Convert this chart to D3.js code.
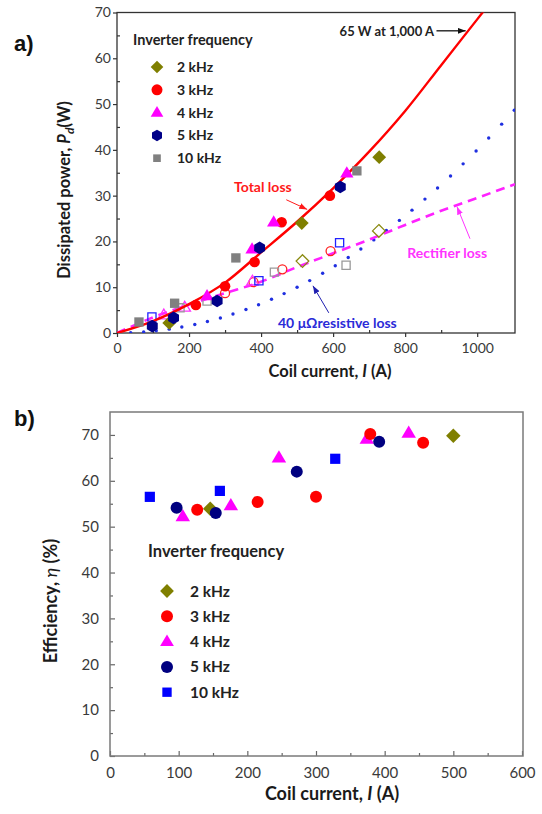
<!DOCTYPE html>
<html>
<head>
<meta charset="utf-8">
<script src="https://d3js.org/d3.v7.min.js"></script>
<style>
  body { margin: 0; background: #fff; }
  text { font-family: Lato, "Open Sans", sans-serif; }
</style>
</head>
<body>
<script>
// ---------- data, panel a (dissipated power vs coil current) ----------
var freqs = ['2 kHz', '3 kHz', '4 kHz', '5 kHz', '10 kHz'];

// filled markers = total loss [I (A), P (W)]
var total2k = [[145, 2.2], [513, 24.0], [728, 38.4]];
var total3k = [[219, 6.1], [300, 10.2], [382, 15.5], [457, 24.2], [591, 30.0]];
var total4k = [[250, 8.1], [375, 18.3], [435, 24.2], [638, 34.9]];
var total5k = [[98, 1.5], [157, 3.3], [278, 7.0], [396, 18.6], [620, 31.9]];
var total10k = [[61, 2.4], [160, 6.5], [330, 16.4], [666, 35.4]];

// open markers = rectifier loss
var rect2k = [[515, 15.7], [727, 22.3]];
var rect3k = [[300, 8.7], [379, 11.1], [459, 13.9], [593, 17.9]];
var rect4k = [[130, 3.9], [188, 5.6], [376, 11.3]];
var rect5k = [[97, 3.5], [394, 11.4], [618, 19.7]];
var rect10k = [[175, 5.5], [250, 7.0], [437, 13.3], [636, 14.8]];

// fitted curves
var totalCurve = [[0, 0], [100, 2.6], [200, 6.3], [300, 11.0], [400, 17.6], [500, 24.3],
    [600, 31.6], [700, 39.6], [800, 48.5], [900, 58.5], [1000, 68.5], [1030, 71.5]];
var rectCurve = [[0, 0], [100, 3.4], [200, 6.2], [300, 8.7], [400, 11.2], [500, 14.4],
    [600, 17.4], [700, 20.4], [800, 23.6], [900, 26.7], [1000, 29.5], [1105, 32.5]];
var resistI = [3, 38, 74, 109, 145, 180, 216, 251, 287, 322, 358, 393, 429, 464, 500, 535,
    571, 606, 642, 677, 713, 748, 784, 819, 855, 890, 926, 961, 997, 1032, 1068, 1103];
var resistP = [0, 0.06, 0.22, 0.48, 0.84, 1.30, 1.87, 2.52, 3.29, 4.15, 5.13, 6.18, 7.36, 8.61, 10.0, 11.45,
    13.04, 14.69, 16.49, 18.33, 20.33, 22.38, 24.59, 26.83, 29.24, 31.68, 34.30, 36.94, 39.76, 42.60, 45.62, 48.66];

var xTicksA = [0, 200, 400, 600, 800, 1000];
var yTicksA = [0, 10, 20, 30, 40, 50, 60, 70];

// ---------- data, panel b (efficiency vs coil current) ----------
var eff2k = [[146, 53.9], [500, 69.8]];
var eff3k = [[127, 53.7], [215, 55.4], [300, 56.5], [379, 70.2], [456, 68.3]];
var eff4k = [[106, 52.2], [176, 54.6], [246, 65.0], [374, 69.1], [435, 70.4]];
var eff5k = [[97, 54.1], [154, 53.0], [272, 62.0], [392, 68.5]];
var eff10k = [[58, 56.5], [160, 57.8], [328, 64.8]];

var xTicksB = [0, 100, 200, 300, 400, 500, 600];
var yTicksB = [0, 10, 20, 30, 40, 50, 60, 70];

// ---------- helpers ----------
function markerPath(shape, r) {
    var p = d3.path(), pts;
    if (shape === 'circle') {
        p.arc(0, 0, r, 0, 2 * Math.PI);
        return p.toString();
    }
    if (shape === 'square') pts = [[-r*0.85, -r*0.85], [r*0.85, -r*0.85], [r*0.85, r*0.85], [-r*0.85, r*0.85]];
    if (shape === 'diamond') pts = [[0, -r*1.15], [r*1.15, 0], [0, r*1.15], [-r*1.15, 0]];
    if (shape === 'triangle') pts = [[0, -r*1.2], [r*1.15, r*0.75], [-r*1.15, r*0.75]];
    if (shape === 'hexagon') pts = d3.range(6).map(function(k) {
        var a = -Math.PI / 2 + k * Math.PI / 3;
        return [r * 1.05 * Math.cos(a), r * 1.05 * Math.sin(a)];
    });
    p.moveTo(pts[0][0], pts[0][1]);
    pts.slice(1).forEach(function(q) { p.lineTo(q[0], q[1]); });
    p.closePath();
    return p.toString();
}

function drawPoints(g, data, x, y, shape, r, color, filled) {
    g.selectAll(null)
        .data(data)
        .enter().append('path')
        .attr('transform', function(d) { return 'translate(' + x(d[0]) + ',' + y(d[1]) + ')'; })
        .attr('d', markerPath(shape, r))
        .attr('fill', filled ? color : 'none')
        .attr('stroke', color)
        .attr('stroke-width', filled ? 0 : 1.3);
}

function styleAxis(g, size, color) {
    g.select('.domain').remove();
    g.selectAll('line').attr('stroke', color).attr('stroke-width', 1.2);
    g.selectAll('text')
        .attr('fill', '#3a3a3a')
        .style('font-size', size + 'px')
        .style('font-family', 'Lato, sans-serif');
}

var svg = d3.select('body').append('svg')
    .attr('width', 542)
    .attr('height', 814);

var defs = svg.append('defs');
[['arrBlack', '#111'], ['arrRed', '#ff1a1a'], ['arrMag', '#ff33ff'], ['arrBlue', '#1f1fb0']].forEach(function(m) {
    defs.append('marker')
        .attr('id', m[0])
        .attr('viewBox', '0 0 8 6')
        .attr('refX', 8).attr('refY', 3)
        .attr('markerWidth', 8).attr('markerHeight', 6)
        .attr('markerUnits', 'userSpaceOnUse')
        .attr('orient', 'auto')
        .append('path')
        .attr('d', 'M0,0 L8,3 L0,6 Z')
        .attr('fill', m[1]);
});

// =================== panel a ===================
var xa = d3.scaleLinear().domain([0, 1105]).range([117, 515]);
var ya = d3.scaleLinear().domain([0, 70]).range([333, 12.5]);

defs.append('clipPath').attr('id', 'clipA')
    .append('rect')
    .attr('x', 117).attr('y', 12.5)
    .attr('width', 398).attr('height', 320.5);

var ga = svg.append('g');

var axA = ga.append('g').attr('transform', 'translate(0,333)')
    .call(d3.axisBottom(xa).tickValues(xTicksA).tickFormat(d3.format('d')).tickSize(4).tickPadding(6));
styleAxis(axA, 14, '#333');
var axAm = ga.append('g').attr('transform', 'translate(0,333)')
    .call(d3.axisBottom(xa).tickValues([100, 300, 500, 700, 900]).tickSize(-3).tickFormat(''));
styleAxis(axAm, 14, '#333');

var ayA = ga.append('g').attr('transform', 'translate(117,0)')
    .call(d3.axisLeft(ya).tickValues(yTicksA).tickSize(4).tickPadding(2));
styleAxis(ayA, 14, '#333');
var ayAm = ga.append('g').attr('transform', 'translate(117,0)')
    .call(d3.axisLeft(ya).tickValues([5, 15, 25, 35, 45, 55, 65]).tickSize(-3).tickFormat(''));
styleAxis(ayAm, 14, '#333');

ga.append('rect')
    .attr('x', 117).attr('y', 12.5)
    .attr('width', 398).attr('height', 320.5)
    .attr('fill', 'none')
    .attr('stroke', '#333')
    .attr('stroke-width', 1.3);

var plotA = ga.append('g').attr('clip-path', 'url(#clipA)');

var lineA = d3.line()
    .x(function(d) { return xa(d[0]); })
    .y(function(d) { return ya(d[1]); })
    .curve(d3.curveMonotoneX);

// resistive loss dots
plotA.selectAll('circle.res')
    .data(resistI)
    .enter().append('circle')
    .attr('class', 'res')
    .attr('cx', function(d) { return xa(d); })
    .attr('cy', function(d, i) { return ya(resistP[i]); })
    .attr('r', 1.7)
    .attr('fill', '#1f2fe0');

// rectifier loss dashed
plotA.append('path')
    .attr('d', lineA(rectCurve))
    .attr('fill', 'none')
    .attr('stroke', '#ff22ff')
    .attr('stroke-width', 2.6)
    .attr('stroke-dasharray', '9,6');

// open markers
drawPoints(plotA, rect2k, xa, ya, 'diamond', 5.5, '#8a8a10', false);
drawPoints(plotA, rect3k, xa, ya, 'circle', 4.5, '#ff2020', false);
drawPoints(plotA, rect4k, xa, ya, 'triangle', 5, '#ff33ff', false);
drawPoints(plotA, rect5k, xa, ya, 'square', 4.8, '#2020ff', false);
drawPoints(plotA, rect10k, xa, ya, 'square', 4.8, '#9a9a9a', false);

// total loss line
plotA.append('path')
    .attr('d', lineA(totalCurve))
    .attr('fill', 'none')
    .attr('stroke', '#ff0000')
    .attr('stroke-width', 2.4);

// filled markers
drawPoints(plotA, total10k, xa, ya, 'square', 5.5, '#808080', true);
drawPoints(plotA, total2k, xa, ya, 'diamond', 6, '#7f7f00', true);
drawPoints(plotA, total3k, xa, ya, 'circle', 5.3, '#ff0000', true);
drawPoints(plotA, total4k, xa, ya, 'triangle', 5.8, '#ff00ff', true);
drawPoints(plotA, total5k, xa, ya, 'hexagon', 6, '#000088', true);

// legend a
var legA = ga.append('g');
legA.append('text')
    .attr('x', 133).attr('y', 45)
    .attr('font-size', 14.5).attr('font-weight', 'bold')
    .attr('fill', '#222')
    .text('Inverter frequency');
var legShapesA = ['diamond', 'circle', 'triangle', 'hexagon', 'square'];
var legColorsA = ['#7f7f00', '#ff0000', '#ff00ff', '#000088', '#808080'];
freqs.forEach(function(f, i) {
    var yy = 67 + i * 22.8;
    legA.append('path')
        .attr('transform', 'translate(157,' + yy + ')')
        .attr('d', markerPath(legShapesA[i], i === 4 ? 4.5 : 5.5))
        .attr('fill', legColorsA[i]);
    legA.append('text')
        .attr('x', 177).attr('y', yy + 5)
        .attr('font-size', 14).attr('font-weight', 'bold')
        .attr('fill', '#222')
        .text(f);
});

// annotations a
ga.append('text')
    .attr('x', xa(880)).attr('y', ya(64.8))
    .attr('text-anchor', 'end')
    .attr('font-size', 13).attr('font-weight', 'bold')
    .attr('fill', '#222')
    .text('65 W at 1,000 A');
ga.append('line')
    .attr('x1', xa(887)).attr('y1', ya(66)).attr('x2', xa(968)).attr('y2', ya(66))
    .attr('stroke', '#111').attr('stroke-width', 1.3)
    .attr('marker-end', 'url(#arrBlack)');

ga.append('text')
    .attr('x', xa(325)).attr('y', ya(30.8))
    .attr('font-size', 14).attr('font-weight', 'bold')
    .attr('fill', '#ff1a1a')
    .text('Total loss');
ga.append('line')
    .attr('x1', xa(470)).attr('y1', ya(29.1)).attr('x2', xa(528)).attr('y2', ya(27.0))
    .attr('stroke', '#ff1a1a').attr('stroke-width', 1)
    .attr('marker-end', 'url(#arrRed)');

ga.append('text')
    .attr('x', xa(806)).attr('y', ya(16.4))
    .attr('font-size', 14).attr('font-weight', 'bold')
    .attr('fill', '#ff33ff')
    .text('Rectifier loss');
ga.append('line')
    .attr('x1', xa(980)).attr('y1', ya(20.6)).attr('x2', xa(944)).attr('y2', ya(27.6))
    .attr('stroke', '#ff33ff').attr('stroke-width', 1)
    .attr('marker-end', 'url(#arrMag)');

ga.append('text')
    .attr('x', xa(447)).attr('y', ya(1.2))
    .attr('font-size', 14).attr('font-weight', 'bold')
    .attr('fill', '#2b2bd8')
    .text('40 μΩresistive loss');
ga.append('line')
    .attr('x1', xa(588)).attr('y1', ya(4.4)).attr('x2', xa(544)).attr('y2', ya(10.3))
    .attr('stroke', '#1f1fb0').attr('stroke-width', 1)
    .attr('marker-end', 'url(#arrBlue)');

// axis titles a
var xtA = ga.append('text')
    .attr('x', 330).attr('y', 377)
    .attr('text-anchor', 'middle')
    .attr('font-size', 16.5).attr('font-weight', 'bold')
    .attr('fill', '#1a1a1a');
xtA.append('tspan').text('Coil current, ');
xtA.append('tspan').attr('font-style', 'italic').text('I');
xtA.append('tspan').text(' (A)');

var ytA = ga.append('text')
    .attr('transform', 'translate(70,190) rotate(-90)')
    .attr('text-anchor', 'middle')
    .attr('font-size', 16.5).attr('font-weight', 'bold')
    .attr('fill', '#1a1a1a');
ytA.append('tspan').text('Dissipated power, ');
ytA.append('tspan').attr('font-style', 'italic').text('P');
ytA.append('tspan').attr('font-size', 12).attr('font-style', 'italic').attr('dy', 4).text('d');
ytA.append('tspan').attr('dy', -4).text('(W)');

svg.append('text')
    .attr('x', 14).attr('y', 51)
    .attr('font-size', 22).attr('font-weight', 'bold')
    .style('font-family', '"Liberation Sans", Arial, sans-serif')
    .attr('fill', '#111')
    .text('a)');

// =================== panel b ===================
var xb = d3.scaleLinear().domain([0, 600]).range([110, 522]);
var yb = d3.scaleLinear().domain([0, 75]).range([756, 412]);

var gb = svg.append('g');

var axB = gb.append('g').attr('transform', 'translate(0,756)')
    .call(d3.axisBottom(xb).tickValues(xTicksB).tickSize(-5).tickPadding(11));
styleAxis(axB, 15, '#666');
var axBm = gb.append('g').attr('transform', 'translate(0,756)')
    .call(d3.axisBottom(xb).tickValues([50, 150, 250, 350, 450, 550]).tickSize(-3).tickFormat(''));
styleAxis(axBm, 15, '#666');

var ayB = gb.append('g').attr('transform', 'translate(110,0)')
    .call(d3.axisLeft(yb).tickValues(yTicksB).tickSize(-5).tickPadding(11));
styleAxis(ayB, 15, '#666');
var ayBm = gb.append('g').attr('transform', 'translate(110,0)')
    .call(d3.axisLeft(yb).tickValues([5, 15, 25, 35, 45, 55, 65]).tickSize(-3).tickFormat(''));
styleAxis(ayBm, 15, '#666');

gb.append('rect')
    .attr('x', 110).attr('y', 412)
    .attr('width', 413).attr('height', 344)
    .attr('fill', 'none')
    .attr('stroke', '#7a7a7a')
    .attr('stroke-width', 1.5);

drawPoints(gb, eff10k, xb, yb, 'square', 6, '#0000ff', true);
drawPoints(gb, eff4k, xb, yb, 'triangle', 6.3, '#ff00ff', true);
drawPoints(gb, eff3k, xb, yb, 'circle', 6, '#ff0000', true);
drawPoints(gb, eff2k, xb, yb, 'diamond', 6.3, '#7f7f00', true);
drawPoints(gb, eff5k, xb, yb, 'circle', 6, '#000080', true);

// legend b
var legB = gb.append('g');
legB.append('text')
    .attr('x', 148).attr('y', 557)
    .attr('font-size', 16.5).attr('font-weight', 'bold')
    .attr('fill', '#222')
    .text('Inverter frequency');
var legShapesB = ['diamond', 'circle', 'triangle', 'circle', 'square'];
var legColorsB = ['#7f7f00', '#ff0000', '#ff00ff', '#000080', '#0000ff'];
freqs.forEach(function(f, i) {
    var yy = 591 + i * 25.3;
    legB.append('path')
        .attr('transform', 'translate(167,' + yy + ')')
        .attr('d', markerPath(legShapesB[i], i === 4 ? 5.5 : 6))
        .attr('fill', legColorsB[i]);
    legB.append('text')
        .attr('x', 190).attr('y', yy + 5.5)
        .attr('font-size', 15.5).attr('font-weight', 'bold')
        .attr('fill', '#222')
        .text(f);
});

var xtB = gb.append('text')
    .attr('x', 332).attr('y', 800)
    .attr('text-anchor', 'middle')
    .attr('font-size', 18).attr('font-weight', 'bold')
    .attr('fill', '#1a1a1a');
xtB.append('tspan').text('Coil current, ');
xtB.append('tspan').attr('font-style', 'italic').text('I');
xtB.append('tspan').text(' (A)');

var ytB = gb.append('text')
    .attr('transform', 'translate(57,601) rotate(-90)')
    .attr('text-anchor', 'middle')
    .attr('font-size', 18).attr('font-weight', 'bold')
    .attr('fill', '#1a1a1a');
ytB.append('tspan').text('Efficiency, ');
ytB.append('tspan').attr('font-style', 'italic').attr('font-weight', 'normal').text('η');
ytB.append('tspan').text(' (%)');

svg.append('text')
    .attr('x', 14).attr('y', 426)
    .attr('font-size', 22).attr('font-weight', 'bold')
    .style('font-family', '"Liberation Sans", Arial, sans-serif')
    .attr('fill', '#111')
    .text('b)');
</script>
</body>
</html>
